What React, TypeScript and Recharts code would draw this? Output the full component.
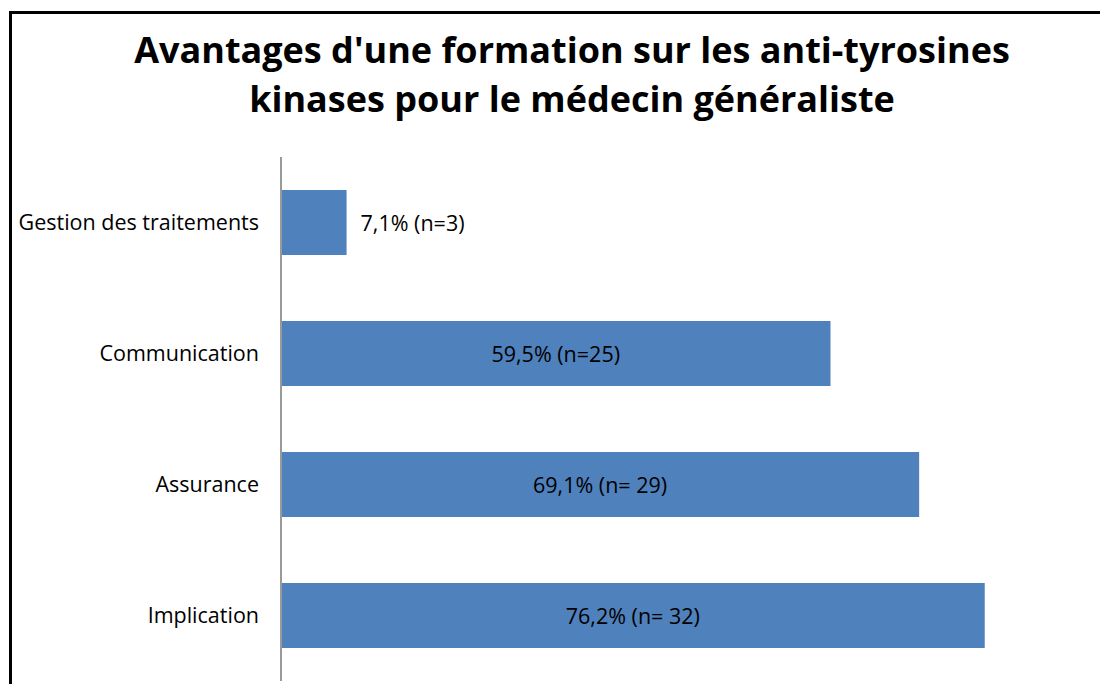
import { BarChart, Bar, XAxis, YAxis, LabelList } from 'recharts'

const categories = ['Gestion des traitements', 'Communication', 'Assurance', 'Implication']
const percentages = [7.1, 59.5, 69.1, 76.2]
const valueLabels = ['7,1% (n=3)', '59,5% (n=25)', '69,1% (n= 29)', '76,2% (n= 32)']

const titleLines = [
  "Avantages d'une formation sur les anti-tyrosines",
  'kinases pour le médecin généraliste',
]

const data = categories.map((name, i) => ({ name, value: percentages[i], label: valueLabels[i] }))

const FONT = '"Open Sans", Lato, sans-serif'

// small bars get their label outside, the rest centered in the bar
const renderValueLabel = (props: any) => {
  const { x, y, width, height, index } = props
  const text = valueLabels[index]
  const outside = width < 120
  return (
    <text
      x={outside ? x + width + 14 : x + width / 2}
      y={y + height / 2}
      textAnchor={outside ? 'start' : 'middle'}
      dominantBaseline="central"
      fontFamily={FONT}
      fontSize={21.5}
      fill="#000"
    >
      {text}
    </text>
  )
}

export default function App() {
  return (
    <div style={{ position: 'absolute', left: 0, top: 0, width: 1100, height: 684, overflow: 'hidden', background: '#fff' }}>
      <div
        style={{
          position: 'absolute',
          left: 9,
          top: 11,
          width: 1200,
          height: 800,
          borderTop: '3px solid #000',
          borderLeft: '3px solid #000',
        }}
      />
      <div
        style={{
          position: 'absolute',
          left: 0,
          top: 25,
          width: 1144,
          textAlign: 'center',
          fontFamily: FONT,
          fontWeight: 700,
          fontSize: 36,
          lineHeight: '49px',
          color: '#000',
        }}
      >
        {titleLines.map((l) => (
          <div key={l}>{l}</div>
        ))}
      </div>
      <div style={{ position: 'absolute', left: 0, top: 0 }}>
        <BarChart
          width={1100}
          height={684}
          data={data}
          layout="vertical"
          margin={{ top: 157, right: 34, left: 0, bottom: 3 }}
          barSize={65}
        >
          <XAxis type="number" domain={[0, 85]} hide />
          <YAxis
            type="category"
            dataKey="name"
            width={281}
            axisLine={{ stroke: '#9a9a9a', strokeWidth: 2 }}
            tickLine={false}
            tickSize={0}
            tickMargin={22}
            tick={{ fill: '#000', fontSize: 21.5, fontFamily: FONT }}
          />
          <Bar dataKey="value" fill="#4F81BD" isAnimationActive={false}>
            <LabelList dataKey="label" content={renderValueLabel} />
          </Bar>
        </BarChart>
      </div>
    </div>
  )
}
